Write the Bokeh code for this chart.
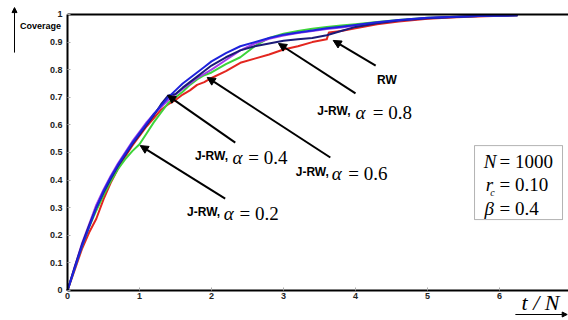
from bokeh.plotting import figure
from bokeh.models import Arrow, NormalHead, Label, BoxAnnotation, FixedTicker, Range1d, LinearAxis
from bokeh.embed import file_html
from bokeh.resources import INLINE

# ---- data ----
T = [0, 0.1, 0.2, 0.3, 0.4, 0.5, 0.6, 0.7, 0.8, 0.9, 1.0, 1.1, 1.2, 1.3, 1.4, 1.5, 1.6, 1.7, 1.8, 1.9,
     2.0, 2.2, 2.4, 2.6, 2.8, 3.0, 3.2, 3.4, 3.6, 3.8, 4.0, 4.3, 4.6, 5.0, 5.4, 5.8, 6.25]

cov_a08 = [0, 0.08, 0.16, 0.23, 0.30, 0.36, 0.41, 0.455, 0.495, 0.535, 0.57, 0.605, 0.64, 0.67, 0.70, 0.725,
           0.75, 0.77, 0.79, 0.81, 0.83, 0.86, 0.885, 0.90, 0.915, 0.927, 0.935, 0.942, 0.95, 0.956, 0.962,
           0.972, 0.98, 0.988, 0.992, 0.995, 0.997]
cov_a04 = [0, 0.085, 0.165, 0.235, 0.30, 0.355, 0.405, 0.45, 0.49, 0.53, 0.565, 0.60, 0.635, 0.675, 0.707,
           0.712, 0.735, 0.755, 0.775, 0.795, 0.815, 0.845, 0.87, 0.885, 0.895, 0.905, 0.91, 0.915, 0.925,
           0.94, 0.955, 0.968, 0.978, 0.986, 0.991, 0.995, 0.997]
cov_a06 = [0, 0.085, 0.17, 0.24, 0.31, 0.365, 0.415, 0.46, 0.50, 0.54, 0.575, 0.61, 0.64, 0.665, 0.69, 0.71,
           0.73, 0.75, 0.77, 0.785, 0.80, 0.835, 0.87, 0.895, 0.912, 0.924, 0.933, 0.94, 0.947, 0.953, 0.96,
           0.97, 0.978, 0.987, 0.992, 0.995, 0.997]
cov_a02 = [0, 0.08, 0.16, 0.23, 0.29, 0.345, 0.395, 0.44, 0.475, 0.505, 0.53, 0.57, 0.61, 0.645, 0.68, 0.70,
           0.72, 0.745, 0.765, 0.78, 0.79, 0.82, 0.845, 0.885, 0.915, 0.93, 0.94, 0.948, 0.955, 0.96, 0.965,
           0.973, 0.98, 0.988, 0.992, 0.995, 0.997]

T_rw = [0, 0.1, 0.2, 0.3, 0.4, 0.5, 0.6, 0.7, 0.8, 0.9, 1.0, 1.1, 1.2, 1.3, 1.4, 1.5, 1.6, 1.7, 1.8, 1.9,
        2.0, 2.2, 2.4, 2.6, 2.8, 3.0, 3.2, 3.4, 3.6, 3.63, 3.8, 4.0, 4.3, 4.6, 5.0, 5.4, 5.8, 6.25]
cov_rw = [0, 0.075, 0.15, 0.21, 0.26, 0.33, 0.39, 0.44, 0.485, 0.525, 0.56, 0.595, 0.625, 0.655, 0.675, 0.69,
          0.71, 0.725, 0.745, 0.755, 0.77, 0.795, 0.825, 0.84, 0.855, 0.873, 0.885, 0.90, 0.91, 0.935, 0.94,
          0.95, 0.965, 0.975, 0.985, 0.99, 0.994, 0.997]

X_TICKS = [0, 1, 2, 3, 4, 5, 6]
Y_TICKS = [0, 0.1, 0.2, 0.3, 0.4, 0.5, 0.6, 0.7, 0.8, 0.9, 1.0]
Y_TICK_LABELS = ["0", "0.1", "0.2", "0.3", "0.4", "0.5", "0.6", "0.7", "0.8", "0.9", "1"]
X_MAX = 6.958

# ---- figure: frame covers the whole canvas, axes are pinned at 0 ----
p = figure(width=568, height=320, output_backend="svg", toolbar_location=None,
           x_range=Range1d(-0.9306, X_MAX), y_range=Range1d(-0.1087, 1.0507),
           x_axis_location=None, y_axis_location=None, min_border=0)
p.outline_line_color = None
p.grid.visible = False
p.background_fill_color = "white"

xax = LinearAxis(fixed_location=0, bounds=(0, X_MAX), ticker=FixedTicker(ticks=X_TICKS))
yax = LinearAxis(fixed_location=0, bounds=(0, 1), ticker=FixedTicker(ticks=Y_TICKS),
                 major_label_overrides={t: l for t, l in zip(Y_TICKS, Y_TICK_LABELS)})
top = LinearAxis(fixed_location=1, bounds=(0, X_MAX), ticker=FixedTicker(ticks=[]))
for ax in (xax, yax, top):
    ax.axis_line_width = 2
    ax.axis_line_color = "black"
    ax.major_tick_in = 3
    ax.major_tick_out = 0
    ax.major_tick_line_color = "#aaaaaa"
    ax.minor_tick_line_color = None
for ax in (xax, yax):
    ax.major_label_text_font = "Liberation Sans"
    ax.major_label_text_font_style = "bold"
    ax.major_label_text_font_size = "9px"
    ax.major_label_text_color = "#222222"
xax.major_label_standoff = 3
yax.major_label_standoff = 5
p.add_layout(xax, "below")
p.add_layout(yax, "left")
p.add_layout(top, "above")

# ---- curves ----
kw = dict(line_width=2, line_join="round")
p.line(T_rw, cov_rw, line_color="#E3261F", **kw)
p.line(T, cov_a02, line_color="#3DD43A", **kw)
p.line(T, cov_a06, line_color="#A33CEB", **kw)
p.line(T, cov_a04, line_color="#1B1B78", **kw)
p.line(T, cov_a08, line_color="#1E22DC", **kw)

# ---- annotations ----
def arrow(xs, ys, xe, ye, w=2, size=8):
    p.add_layout(Arrow(end=NormalHead(size=size, fill_color="black", line_color="black"),
                       x_start=xs, y_start=ys, x_end=xe, y_end=ye,
                       line_color="black", line_width=w))

arrow(4.28, 0.815, 3.69, 0.906)   # RW
arrow(4.00, 0.714, 2.93, 0.895)   # 0.8
arrow(3.65, 0.482, 1.94, 0.772)   # 0.6
arrow(2.33, 0.536, 1.39, 0.707)   # 0.4
arrow(2.19, 0.333, 1.01, 0.525)   # 0.2

def lab(x, y, text, font="Liberation Sans", size="12px", style="bold", align="left", base="alphabetic"):
    p.add_layout(Label(x=x, y=y, text=text, text_font=font, text_font_size=size,
                       text_font_style=style, text_align=align, text_baseline=base, text_color="black"))

SERIF = "Liberation Serif"
lab(4.30, 0.764, "RW")
for (xj, xa, xv, yb, val) in [(1.66, 2.17, 2.39, 0.279, "= 0.2"),
                              (1.77, 2.29, 2.51, 0.482, "= 0.4"),
                              (3.17, 3.67, 3.90, 0.424, "= 0.6"),
                              (3.47, 4.00, 4.24, 0.645, "= 0.8")]:
    lab(xj, yb + 0.004, "J-RW,")
    lab(xa, yb, "\u03b1", font=SERIF, size="19px", style="italic")
    lab(xv, yb, val, font=SERIF, size="19px", style="normal")

# parameter box
p.add_layout(BoxAnnotation(left=5.653, right=6.875, bottom=0.257, top=0.525,
                           fill_color="white", fill_alpha=1, line_color="black", line_width=1))
lab(5.78, 0.467, "N", font=SERIF, size="19px", style="italic")
lab(6.00, 0.467, "= 1000", font=SERIF, size="19px", style="normal")
lab(5.81, 0.384, "r", font=SERIF, size="19px", style="italic")
lab(5.87, 0.355, "c", font=SERIF, size="10px", style="italic")
lab(6.00, 0.384, "= 0.10", font=SERIF, size="19px", style="normal")
lab(5.79, 0.297, "\u03b2", font=SERIF, size="19px", style="italic")
lab(6.00, 0.297, "= 0.4", font=SERIF, size="19px", style="normal")

# axis captions
lab(-0.375, 0.957, "Coverage", size="9px", align="center", base="middle")
arrow(-0.736, 0.862, -0.736, 1.025, w=1, size=5)
lab(6.57, -0.043, "t / N", font=SERIF, size="22px", style="italic", align="center", base="middle")
arrow(6.22, -0.087, 6.94, -0.087, w=1, size=5)

open("out.html", "w").write(file_html(p, INLINE))
